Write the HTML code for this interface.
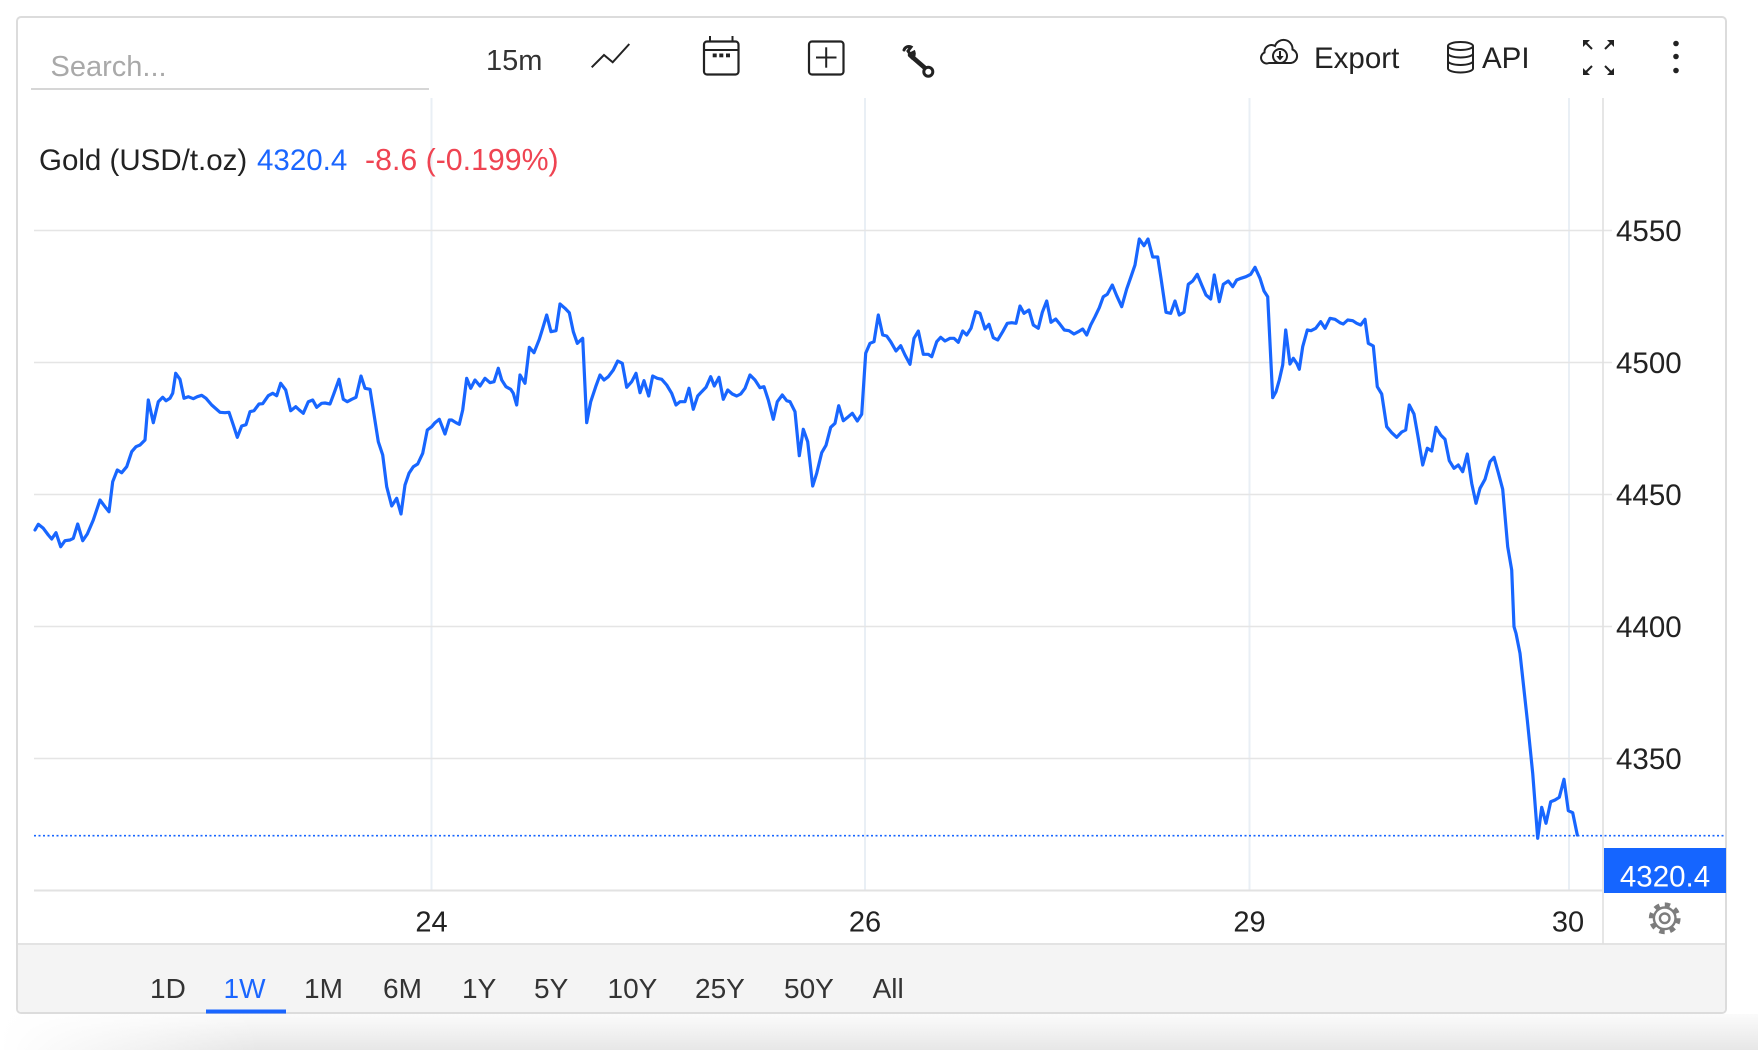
<!DOCTYPE html>
<html><head><meta charset="utf-8"><style>
html,body{margin:0;padding:0;background:#fff;width:1758px;height:1050px;overflow:hidden}
svg{display:block}
text{font-family:"Liberation Sans",Arial,Helvetica,sans-serif}
</style></head><body>
<svg width="1758" height="1050" viewBox="0 0 1758 1050" xmlns="http://www.w3.org/2000/svg">
<defs>
<linearGradient id="sh" x1="0" y1="0" x2="0" y2="1"><stop offset="0" stop-color="#fbfbfb"/><stop offset="1" stop-color="#e7e7e7"/></linearGradient>
<linearGradient id="shl" x1="0" y1="0" x2="1" y2="0"><stop offset="0" stop-color="#fff" stop-opacity="1"/><stop offset="1" stop-color="#fff" stop-opacity="0"/></linearGradient>
</defs>
<rect x="0" y="0" width="1758" height="1050" fill="#fff"/>
<!-- bottom shadow -->
<rect x="0" y="1014" width="1758" height="36" fill="url(#sh)"/>
<rect x="0" y="1014" width="260" height="36" fill="url(#shl)"/>
<!-- card -->
<rect x="17" y="17" width="1709" height="996" rx="4" fill="#fff" stroke="#dcdcdc" stroke-width="2"/>
<!-- range bar -->
<path d="M18,944 H1725 V1008 a4,4 0 0 1 -4,4 H22 a4,4 0 0 1 -4,-4 Z" fill="#f4f4f4"/>
<line x1="18" y1="944" x2="1725" y2="944" stroke="#e3e3e3" stroke-width="2"/>

<!-- toolbar -->
<text x="50.5" y="76" font-size="29" fill="#a9a9a9">Search...</text>
<line x1="31" y1="89" x2="429" y2="89" stroke="#d6d6d6" stroke-width="2"/>
<text x="486" y="70" font-size="29" fill="#333">15m</text>
<polyline points="591.7,67.3 604,55 612.7,62.3 629.3,44" fill="none" stroke="#222" stroke-width="2"/>
<!-- calendar -->
<rect x="704" y="41.5" width="34.5" height="33" rx="3" fill="none" stroke="#222" stroke-width="2.2"/>
<line x1="704" y1="50" x2="738.5" y2="50" stroke="#222" stroke-width="2"/>
<line x1="710" y1="36" x2="710" y2="41.5" stroke="#222" stroke-width="2"/>
<line x1="732.5" y1="36" x2="732.5" y2="41.5" stroke="#222" stroke-width="2"/>
<rect x="712.7" y="53.5" width="4" height="3.8" fill="#222"/>
<rect x="719.3" y="53.5" width="4" height="3.8" fill="#222"/>
<rect x="726" y="53.5" width="4" height="3.8" fill="#222"/>
<!-- plus box -->
<rect x="809" y="41.5" width="34.5" height="33" rx="3" fill="none" stroke="#222" stroke-width="2.2"/>
<line x1="816" y1="57.5" x2="836.5" y2="57.5" stroke="#222" stroke-width="2"/>
<line x1="826.2" y1="47.3" x2="826.2" y2="67.7" stroke="#222" stroke-width="2"/>
<!-- wrench -->
<path d="M904,50 a5,5 0 0 1 7,-3 l-3,4 l2,3 l4,-2 a5,5 0 0 1 -2,6" fill="none" stroke="#222" stroke-width="3" stroke-linecap="round"/>
<line x1="910" y1="55" x2="925" y2="68" stroke="#222" stroke-width="4.5" stroke-linecap="round"/>
<circle cx="928.3" cy="71.7" r="4.5" fill="#fff" stroke="#222" stroke-width="3"/>
<!-- export -->
<path d="M1269,63 H1291 A7,7 0 0 0 1292.5,49.5 A9,9 0 0 0 1275,46 A7,7 0 0 0 1264.5,52.5 A5.5,5.5 0 0 0 1269,63 Z" fill="none" stroke="#222" stroke-width="2"/>
<circle cx="1280" cy="56" r="7" fill="#fff" stroke="#222" stroke-width="2"/>
<line x1="1280" y1="51" x2="1280" y2="57" stroke="#222" stroke-width="2"/>
<polygon points="1276.3,56 1283.7,56 1280,60.5" fill="#222"/>
<text x="1314" y="68" font-size="29.5" fill="#222">Export</text>
<!-- db -->
<ellipse cx="1460.5" cy="46" rx="12.5" ry="4" fill="none" stroke="#222" stroke-width="2"/>
<path d="M1448,46 V68.5 M1473,46 V68.5 M1448,53.5 A12.5,4 0 0 0 1473,53.5 M1448,61 A12.5,4 0 0 0 1473,61 M1448,68.5 A12.5,4 0 0 0 1473,68.5" fill="none" stroke="#222" stroke-width="2"/>
<text x="1482" y="68" font-size="29.5" fill="#222">API</text>
<!-- fullscreen -->
<g stroke="#222" stroke-width="2" fill="#222">
<line x1="1584" y1="41" x2="1592" y2="49"/><polygon points="1583,40 1590,40 1583,47" stroke="none"/>
<line x1="1613" y1="41" x2="1605" y2="49"/><polygon points="1614,40 1607,40 1614,47" stroke="none"/>
<line x1="1584" y1="74" x2="1592" y2="66"/><polygon points="1583,75 1590,75 1583,68" stroke="none"/>
<line x1="1613" y1="74" x2="1605" y2="66"/><polygon points="1614,75 1607,75 1614,68" stroke="none"/>
</g>
<circle cx="1676" cy="43.5" r="2.8" fill="#222"/>
<circle cx="1676" cy="56.5" r="2.8" fill="#222"/>
<circle cx="1676" cy="70.5" r="2.8" fill="#222"/>

<!-- grid -->
<g stroke="#e9eff5" stroke-width="2">
<line x1="431.5" y1="98" x2="431.5" y2="890"/>
<line x1="865" y1="98" x2="865" y2="890"/>
<line x1="1249.5" y1="98" x2="1249.5" y2="890"/>
<line x1="1569" y1="98" x2="1569" y2="890"/>
</g>
<g stroke="#e5e5e5" stroke-width="1.6">
<line x1="34" y1="230.5" x2="1612" y2="230.5"/>
<line x1="34" y1="362.5" x2="1612" y2="362.5"/>
<line x1="34" y1="494.5" x2="1612" y2="494.5"/>
<line x1="34" y1="626.5" x2="1612" y2="626.5"/>
<line x1="34" y1="758.5" x2="1612" y2="758.5"/>
</g>
<line x1="1603" y1="98" x2="1603" y2="944" stroke="#e0e0e0" stroke-width="1.6"/>
<line x1="34" y1="890.5" x2="1603" y2="890.5" stroke="#e2e2e2" stroke-width="2"/>

<!-- y labels -->
<g font-size="29.5" fill="#222">
<text x="1616" y="241">4550</text>
<text x="1616" y="373">4500</text>
<text x="1616" y="505">4450</text>
<text x="1616" y="637">4400</text>
<text x="1616" y="769">4350</text>
</g>
<!-- x labels -->
<g font-size="29" fill="#222" text-anchor="middle">
<text x="431.5" y="931.5">24</text>
<text x="865" y="931.5">26</text>
<text x="1249.5" y="931.5">29</text>
<text x="1568" y="931.5">30</text>
</g>

<!-- title -->
<text x="39" y="170" font-size="29.5" fill="#222">Gold (USD/t.oz)</text>
<text x="257" y="170" font-size="29.5" fill="#1a66ff">4320.4</text>
<text x="365" y="170" font-size="30.3" fill="#ef4452">-8.6 (-0.199%)</text>

<!-- dotted last price -->
<line x1="34" y1="835.7" x2="1725" y2="835.7" stroke="#1866ff" stroke-width="1.6" stroke-dasharray="2 2.5"/>

<!-- series -->
<polyline fill="none" stroke="#1866ff" stroke-width="3.2" stroke-linejoin="round" stroke-linecap="round" points="35,530 38.3,524.3 43.3,528.3 48.3,535 51.7,539 56,532.7 60.7,546.7 65,540.7 70,540 73.3,538.3 77.7,524 82.7,540.7 87.3,534 93.3,520 100,500 105,506.7 109,511.7 112.7,481.7 117.3,470 121.7,472.7 126.7,466.7 131.7,451.7 136,446.7 140,445 145,440 148.3,400 153.3,422.7 158.3,401.7 162.7,397.3 166,400.7 170,398.3 172.7,393.3 175.7,373.3 180,379.3 184,398.3 188.3,396.7 193.3,398.7 197.3,396.7 201.7,395.3 206,398.3 211.7,405 220,412.3 225,412.7 229,412.3 233.3,425 237.3,437.3 241.7,426 246,424.7 250,411.7 254,410.7 259,404 262.7,403.7 268.3,395.7 272.7,393.3 276.7,395.7 280.7,383.3 285.7,390 290.7,410.7 295.7,406.7 299.3,410 303.3,413.3 308.3,401.7 312.7,400 316.7,407.3 321.7,403.3 325,403 330,404 334,393.3 339,379.3 343.3,399.3 347.3,401.7 351.7,399.3 356,397.3 361,376 365,388.3 370,389.3 373.3,410 378.3,441.7 382.7,455 386.7,486.7 391.7,506 396.7,498.3 401,514 405,485 409,473.3 413.3,466.7 417.7,464 422.7,453.3 427.3,430 431.7,426.7 435,422.7 439.3,419.3 445,434 449.3,420 451.7,420 456,422.7 459.3,424.3 462.7,410 466.7,378.3 470.7,388.3 475,380 480,386 485,378.3 490,382.7 494,381.7 498.3,368.3 501.7,380 506,386.7 510.7,389.3 513.3,393.3 516.7,405 520,375 525,383.3 529.3,347.3 534,352.7 539.3,339.3 542.7,328.3 546.7,315 551,331.7 556,330.7 560,304 565,308.3 569.3,312.7 573.3,331.7 577.3,343.3 582.7,338.3 586.7,422.7 590.7,401.7 595.7,386.7 600,375 604,380 608.3,376.7 613.3,370 617.7,361 622.3,363.3 626.7,387.3 631.7,381.7 636,373.3 640,392.7 644,380.7 648.7,396 652.7,376 657.3,378.3 661.7,379.3 666.7,385 671.7,393.3 676,405 680,401.7 685,401.7 689,388.3 693.3,409.3 697.7,396 701.7,391.7 706,387.3 710.7,376.7 714.3,386 719,377.3 723.3,399.3 727.7,390 732.3,394 736.7,396 740.7,394 745,388.3 750,375 755,380 760,387.7 764,386.7 768.3,400 773.3,419.3 777.3,401.7 782.3,395 786.7,400.7 790,401.7 795,411.7 799.3,455.7 803.3,429.3 807.7,441.7 812.7,486 816.7,473.3 821.7,452.7 826,445.3 830.7,427.3 835,423.3 838.7,405.7 843.3,420.7 848.3,416.7 852.3,413.3 857.3,421 861.7,414.3 865.7,353.3 870,343.3 874,341.7 878.3,315 882.7,335 886.7,336 890.7,341.7 896,351 900.7,345.7 905,355 910,364.3 914,338.3 918.3,331 923.3,354.3 928.3,354.3 931.7,356.7 936.7,341.7 940.7,337.3 945,341 950,338.3 954,338.3 958.3,342.3 962.7,331 966.7,335 971,328.3 975.7,311.7 980,313.3 985,329 989,324.3 993.3,337.7 997.7,340 1002.7,331.7 1007.3,323.3 1011.7,322.7 1016,323.3 1020,306 1024,313.3 1029,310 1033.3,325 1038.3,328.3 1042.3,312.3 1046.7,301 1051,322.3 1055.7,319 1060,324.3 1064.3,330 1069,330.7 1074,334 1078.3,331.7 1082.7,329 1086.7,335 1090.7,325 1095,316.7 1099.3,307.7 1103.3,296.7 1107.3,294.3 1112.3,285 1116.7,295.7 1121.7,306.7 1126.7,289 1131,276.7 1135,265 1139.3,239 1144,245.7 1148,239 1152.7,257 1157.7,257 1161,278.3 1166,312.3 1170.7,313.3 1175,301 1179.3,315 1184,312.3 1188.3,284.3 1192.7,281 1197.3,274.3 1201.7,285 1206,295 1210.7,299 1214.3,275 1219.3,301.7 1223.3,284.3 1228.3,281 1232.7,286.7 1236.7,280 1241,278.3 1246,276.7 1250.7,274.3 1255,267.3 1260,278.3 1264,291 1267.7,296.7 1272.7,397.7 1276,391.7 1279.3,380 1282.7,365 1285.7,330 1290,364 1293.3,358.3 1296.7,363.3 1299.3,369.3 1302.7,346.7 1307.3,330 1311,330.7 1315.7,328.3 1320.7,321.7 1325,328.3 1330,318.3 1335,319.3 1340,322.7 1343.3,324 1347.7,320 1352.7,320.7 1356.7,323.3 1360.7,325 1365,319.3 1368.3,343.3 1373.3,346 1377.3,386.7 1381.7,394 1386.7,426.7 1391.7,432.7 1396.7,437.3 1401.7,432 1405.7,430 1409.3,405 1414,414 1418.3,438.3 1422.7,465 1427.3,448.3 1431.7,451 1436,427.3 1440.7,435 1445,439.3 1449.3,460.7 1454,468.3 1458.3,465 1462.7,471.7 1467.3,454 1471.7,483.3 1476,503.3 1480,488.3 1485,479.3 1490,461.7 1494,457.3 1498.3,472.7 1502.7,489.3 1507.7,546.7 1511.7,570 1514,626.7 1516,633.3 1520,653.3 1527.3,720 1532.7,773.3 1537.7,838.3 1541.7,807.3 1546,823.3 1550.7,801.7 1555,800 1559.3,797.3 1564,779.3 1568.3,810.7 1572.7,812.7 1577.3,835"/>

<!-- price tag -->
<rect x="1604" y="848" width="122" height="45" fill="#1565ff"/>
<text x="1665" y="886.5" font-size="29.5" fill="#fff" text-anchor="middle">4320.4</text>

<!-- gear -->
<g fill="none" stroke="#7d7d7d">
<circle cx="1664.7" cy="918.3" r="13.6" stroke-width="4.6" stroke-dasharray="5.3 5.38"/>
<circle cx="1664.7" cy="918.3" r="10.8" stroke-width="2.4" fill="#fff"/>
<circle cx="1664.7" cy="918.3" r="4.8" stroke-width="2.4"/>
</g>

<!-- range buttons -->
<g font-size="28" fill="#333">
<text x="150" y="998">1D</text>
<text x="223.5" y="998" fill="#1a66ff">1W</text>
<text x="304" y="998">1M</text>
<text x="383" y="998">6M</text>
<text x="462" y="998">1Y</text>
<text x="534" y="998">5Y</text>
<text x="607.5" y="998">10Y</text>
<text x="695" y="998">25Y</text>
<text x="784" y="998">50Y</text>
<text x="872.6" y="998">All</text>
</g>
<rect x="206" y="1009.5" width="80" height="4" fill="#1a66ff"/>
</svg>
</body></html>
